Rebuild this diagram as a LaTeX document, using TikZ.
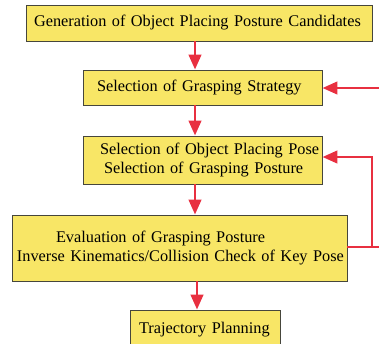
\documentclass[tikz,border=0pt]{standalone}
\usepackage{fontspec}
\setmainfont{Liberation Serif}
\usetikzlibrary{arrows.meta}
\definecolor{boxfill}{RGB}{248,230,102}
\definecolor{arrred}{RGB}{232,48,64}
\definecolor{boxline}{RGB}{70,70,60}
\begin{document}
\begin{tikzpicture}[x=1pt,y=-1pt,
  box/.style={draw=boxline,line width=0.9pt,fill=boxfill,inner xsep=0pt,inner ysep=0pt,font=\fontsize{16.3}{19.5}\selectfont,align=left},
  wire/.style={draw=arrred,line width=2.8pt},
  link/.style={wire,-{Triangle[length=15pt,width=12.5pt]}}]
\useasboundingbox (0,0) rectangle (379,343);
\node[box,text width=346pt,minimum height=36pt] (b1) at (199,23) {\hspace*{8pt}\mbox{Generation of Object Placing Posture Candidates}};
\node[box,text width=239pt,minimum height=35pt] (b2) at (202.5,87.5) {\hspace*{14pt}\mbox{Selection of Grasping Strategy}};
\node[box,text width=239pt,minimum height=48pt] (b3) at (202.5,160) {\hspace*{17pt}\mbox{Selection of Object Placing Pose}\\\hspace*{21pt}\mbox{Selection of Grasping Posture}};
\node[box,text width=335pt,minimum height=66pt] (b4) at (179.5,248) {\hspace*{44pt}\mbox{Evaluation of Grasping Posture}\\\hspace*{5pt}\mbox{Inverse Kinematics/Collision Check of Key Pose}};
\node[box,text width=150pt,minimum height=40pt] (b5) at (205,330) {\hspace*{9pt}\mbox{Trajectory Planning}};
\coordinate (in2) at (381,88);
\coordinate (out4) at (381,247);
\coordinate (c4) at (372,247);
\coordinate (c3) at (372,157);
\draw[link] (b1.south -| 195,0) -- (b2.north -| 195,0);
\draw[link] (b2.south -| 195,0) -- (b3.north -| 195,0);
\draw[link] (b3.south -| 195,0) -- (b4.north -| 195,0);
\draw[link] (b4.south -| 197,0) -- (b5.north -| 197,0);
\draw[link] (in2) -- (b2.east |- in2);
\draw[wire] (b4.east |- out4) -- (out4);
\draw[link] ([yshift=1.4pt]c4) -- (c3) -- (b3.east |- c3);
\end{tikzpicture}
\end{document}
